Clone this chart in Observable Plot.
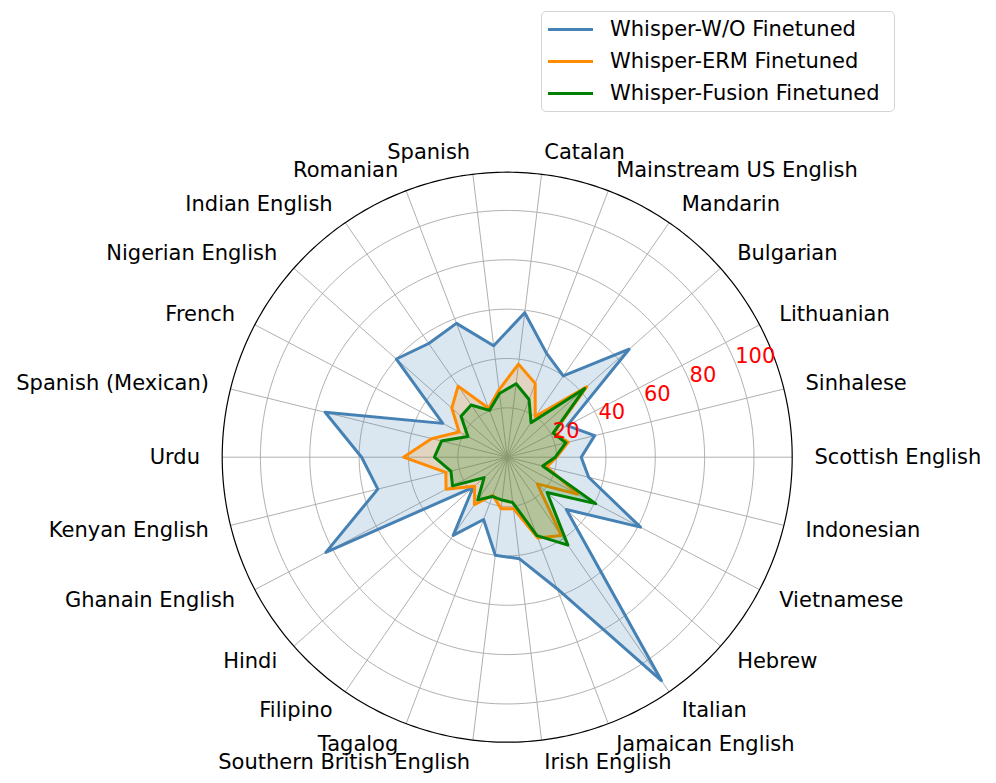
<!DOCTYPE html>
<html>
<head>
<meta charset="utf-8">
<script src="https://cdn.jsdelivr.net/npm/d3@7"></script>
<script src="https://cdn.jsdelivr.net/npm/@observablehq/plot@0.6"></script>
<style>
  body { margin: 0; background: #fff; font-family: "DejaVu Sans", sans-serif; }
  #wrap { width: 996px; }
  #legend { position: relative; height: 115px; }
  .box { position: absolute; left: 541px; top: 11px; width: 354px; height: 101px;
         border: 1px solid #d4d4d4; border-radius: 5px; box-sizing: border-box; background: #fff; }
  .item { position: absolute; left: 6px; height: 32px; display: flex; align-items: center;
          font-size: 21px; color: #000; white-space: nowrap; }
  .swatch { width: 45px; height: 3px; margin-right: 17px; }
</style>
</head>
<body>
<div id="wrap">
  <div id="legend"><div class="box" id="box"></div></div>
  <div id="chart"></div>
</div>
<script>
// ---------------- data ----------------
const categories = ["Scottish English", "Sinhalese", "Lithuanian", "Bulgarian", "Mandarin",
  "Mainstream US English", "Catalan", "Spanish", "Romanian", "Indian English", "Nigerian English",
  "French", "Spanish (Mexican)", "Urdu", "Kenyan English", "Ghanain English", "Hindi", "Filipino",
  "Tagalog", "Southern British English", "Irish English", "Jamaican English", "Italian", "Hebrew",
  "Vietnamese", "Indonesian"];

const seriesNames = ["Whisper-W/O Finetuned", "Whisper-ERM Finetuned", "Whisper-Fusion Finetuned"];
const seriesColors = ["#4682b4", "#ff8c00", "#008000"];

const woFinetuned = [30, 36.5, 27.5, 66, 40, 45, 59, 45.5, 58, 56, 60, 29.5, 76, 59, 54, 83,
  18.5, 38.5, 27, 40, 41.5, 57, 110, 32, 61, 34];
const ermFinetuned = [20, 25.5, 21.5, 43, 20, 32, 38, 27.5, 21.2, 35, 30, 22, 31.5, 42, 25.6, 28,
  17.7, 23.4, 16.5, 21, 21, 35, 38.6, 16.3, 32.3, 16.5];
const fusionFinetuned = [19.5, 24.5, 21, 42, 17, 25, 30, 26, 20.3, 25.7, 25, 18, 27.4, 29.5, 23.5, 25,
  12.5, 21, 17, 17.5, 18.5, 34, 43.3, 21.6, 40.5, 14.8];

const radialTicks = [20, 40, 60, 80, 100];
const seriesValues = [woFinetuned, ermFinetuned, fusionFinetuned];

// ---------------- geometry helpers ----------------
const N = categories.length;
const RMAX = d3.max(woFinetuned) * 1.05;   // matplotlib polar autoscale margin
const LABEL_R = RMAX + 9;                   // category label radius (data units)
const TICK_ANGLE = 22.5 * Math.PI / 180;
const ang = i => 2 * Math.PI * i / N;

// legend (HTML, above the SVG)
const box = document.getElementById("box");
seriesNames.forEach((name, k) => {
  const it = document.createElement("div");
  it.className = "item";
  it.style.top = (1 + k * 32) + "px";
  const sw = document.createElement("div");
  sw.className = "swatch";
  sw.style.background = seriesColors[k];
  const tx = document.createElement("span");
  tx.textContent = name;
  it.appendChild(sw); it.appendChild(tx);
  box.appendChild(it);
});

const polar = (vals) => vals.map((v, i) => ({cat: categories[i], v, i}));
const px = d => d.v * Math.cos(ang(d.i));
const py = d => d.v * Math.sin(ang(d.i));

const ringPts = radialTicks.flatMap(r => d3.range(0, 361, 1).map(a => ({r, a: a * Math.PI / 180})));
const outerPts = d3.range(0, 361, 1).map(a => ({r: RMAX, a: a * Math.PI / 180}));

const catIdx = categories.map((c, i) => ({c, i}));
const rightCats = catIdx.filter(d => Math.cos(ang(d.i)) > 1e-9);
const leftCats = catIdx.filter(d => Math.cos(ang(d.i)) <= 1e-9);

const seriesMarks = [];
seriesValues.forEach((vals, k) => {
  const pts = polar(vals);
  seriesMarks.push(Plot.line(pts, {x: px, y: py, curve: "linear-closed",
    stroke: seriesColors[k], strokeWidth: 3, strokeLinejoin: "round", fill: "none"}));
  seriesMarks.push(Plot.line(pts, {x: px, y: py, curve: "linear-closed",
    stroke: "none", fill: seriesColors[k], fillOpacity: 0.2}));
});

const chart = Plot.plot({
  width: 996,
  height: 668,
  marginLeft: 221.7,
  marginRight: 204.3,
  marginTop: 56.7,
  marginBottom: 41.3,
  x: {domain: [-RMAX, RMAX], axis: null},
  y: {domain: [-RMAX, RMAX], axis: null},
  style: {fontFamily: "DejaVu Sans, sans-serif", background: "white", overflow: "visible"},
  marks: [
    // grid rings
    Plot.line(ringPts, {x: d => d.r * Math.cos(d.a), y: d => d.r * Math.sin(d.a), z: "r",
      stroke: "#b0b0b0", strokeWidth: 1, curve: "linear"}),
    // spokes
    Plot.link(catIdx, {x1: () => 0, y1: () => 0,
      x2: d => RMAX * Math.cos(ang(d.i)), y2: d => RMAX * Math.sin(ang(d.i)),
      stroke: "#b0b0b0", strokeWidth: 1}),
    ...seriesMarks,
    // outer spine
    Plot.line(outerPts, {x: d => d.r * Math.cos(d.a), y: d => d.r * Math.sin(d.a),
      stroke: "black", strokeWidth: 1.2}),
    // radial tick labels
    Plot.text(radialTicks, {x: d => d * Math.cos(TICK_ANGLE), y: d => d * Math.sin(TICK_ANGLE),
      text: d => String(d), textAnchor: "start", lineAnchor: "bottom", fill: "red", fontSize: 21}),
    // category labels
    Plot.text(rightCats, {x: d => LABEL_R * Math.cos(ang(d.i)), y: d => LABEL_R * Math.sin(ang(d.i)),
      text: d => d.c, textAnchor: "start", lineAnchor: "middle", fill: "black", fontSize: 21}),
    Plot.text(leftCats, {x: d => LABEL_R * Math.cos(ang(d.i)), y: d => LABEL_R * Math.sin(ang(d.i)),
      text: d => d.c, textAnchor: "end", lineAnchor: "middle", fill: "black", fontSize: 21})
  ]
});
document.getElementById("chart").appendChild(chart);
</script>
</body>
</html>
